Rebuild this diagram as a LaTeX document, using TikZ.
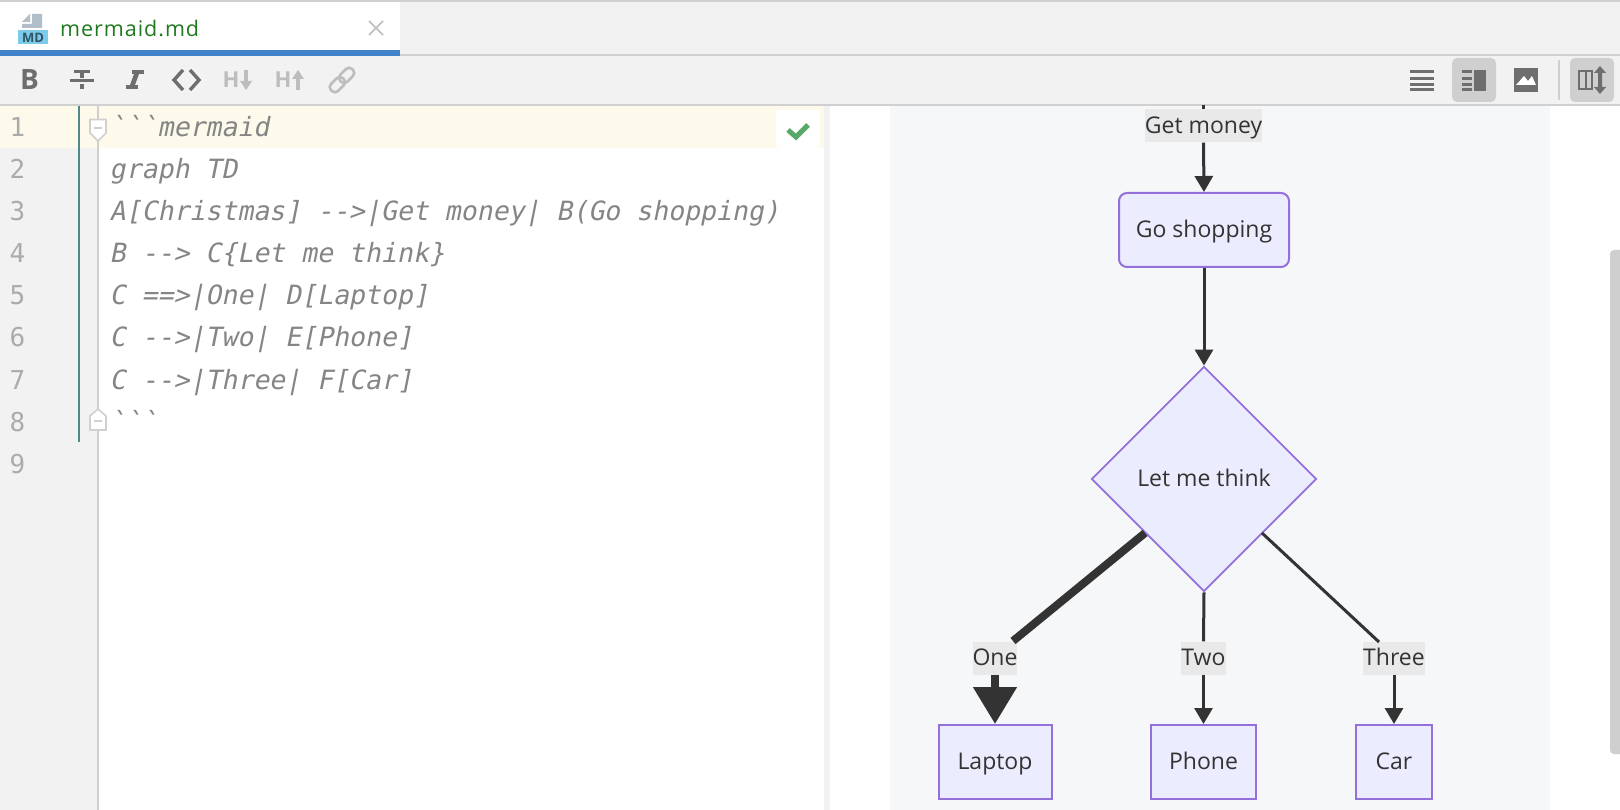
\documentclass[tikz,border=0pt]{standalone}
\usepackage{fontspec}
\setmainfont{Open Sans}
\newfontfamily\codefont{DejaVu Sans Mono}
\newfontfamily\uifont{Open Sans}
\newfontfamily\tabfont[LetterSpace=4.5]{Open Sans}
\usetikzlibrary{arrows.meta,shapes.geometric}
\definecolor{barbg}{HTML}{F2F2F2}
\definecolor{sep}{HTML}{D0D0D0}
\definecolor{tabblue}{HTML}{4083C9}
\definecolor{curline}{HTML}{FDFAEB}
\definecolor{teal1}{HTML}{4F8A87}
\definecolor{codegray}{HTML}{858585}
\definecolor{numgray}{HTML}{ABABAB}
\definecolor{panel}{HTML}{F6F7F9}
\definecolor{nodefill}{HTML}{ECECFF}
\definecolor{nodeline}{HTML}{9370DB}
\definecolor{ink}{HTML}{333333}
\definecolor{lblbg}{HTML}{E9E9E9}
\definecolor{icon}{HTML}{6E6E6E}
\definecolor{iconoff}{HTML}{BDBDBD}
\definecolor{iconbg}{HTML}{CFCFCF}
\definecolor{okgreen}{HTML}{59A869}
\definecolor{mdblue}{HTML}{7CCBEA}
\definecolor{mdgray}{HTML}{B2BEC8}
\definecolor{mdink}{HTML}{2F5566}
\definecolor{tabgreen}{HTML}{1F7A1F}
\tikzset{
 x=1pt,y=-1pt,
 codeline/.style={anchor=base west,inner sep=0pt,text=codegray,font=\fontsize{26.5}{30}\codefont\addfontfeature{FakeSlant=0.2}},
 numline/.style={anchor=base west,inner sep=0pt,text=numgray,font=\fontsize{26}{30}\codefont},
 flow/.style={draw=nodeline,fill=nodefill,line width=2pt,inner sep=0pt,text=ink,text height=18pt,text depth=3pt,font=\fontsize{23}{28}\selectfont},
 edgelbl/.style={fill=lblbg,inner sep=0pt,text=ink,text height=18pt,text depth=3pt,font=\fontsize{23}{28}\selectfont},
 conn/.style={draw=ink,line width=3pt,-{Triangle[length=16pt,width=18pt]}},
 connplain/.style={draw=ink,line width=3pt},
 thick conn/.style={draw=ink,line width=8pt,-{Triangle[length=37pt,width=42pt]}},
 thick plain/.style={draw=ink,line width=8pt},
}
\begin{document}
\begin{tikzpicture}
\useasboundingbox (0,0) rectangle (1620,810);
% backgrounds
\fill[white] (0,0) rectangle (1620,810);
\fill[barbg] (0,0) rectangle (1620,105);
\fill[sep] (0,0) rectangle (1620,2);
\fill[sep] (400,54) rectangle (1620,56);
\fill[white] (0,2) rectangle (400,50);
\fill[tabblue] (0,50) rectangle (400,56);
\fill[sep] (0,104) rectangle (1620,106);
% gutter
\fill[barbg] (0,106) rectangle (98,810);
\fill[curline] (0,106) rectangle (824,148);
\fill[sep] (97,106) rectangle (99,810);
\fill[teal1] (78,106) rectangle (80,442);
\fill[barbg] (824,106) rectangle (830,810);
% preview
\fill[panel] (890,106) rectangle (1550,810);
\fill[iconbg,rounded corners=4pt] (1610,250) rectangle (1630,754);
% tab
\fill[mdgray] (32,14) -- (42,14) -- (42,28) -- (22,28) -- (22,24) -- (32,24) -- cycle;
\fill[mdgray] (30,14) -- (30,22) -- (22,22) -- cycle;
\fill[mdblue] (18,30) rectangle (48,44);
\node[anchor=center,inner sep=0pt,text=mdink,font=\fontsize{13}{14}\uifont\bfseries] (mdmark) at (33,38) {MD};
\node[anchor=base west,inner sep=0pt,text=tabgreen,font=\fontsize{21.5}{24}\tabfont] (tabname) at (60,36.5) {mermaid.md};
\draw[iconoff,line width=1.6pt] (369,21) -- (383,35) (383,21) -- (369,35);
% toolbar icons
\node[inner sep=0pt,text=icon,font=\fontsize{28}{30}\uifont\bfseries] (ibold) at (29.5,80) {B};
\fill[icon] (70,79) rectangle (94,82);
\fill[icon] (74,70) rectangle (90,73);
\fill[icon] (80,73) rectangle (84,78);
\fill[icon] (80,84) rectangle (84,89);
\fill[icon] (132,70) rectangle (144,74);
\fill[icon] (126,85) rectangle (138,89);
\fill[icon] (134,74) -- (139,74) -- (135,85) -- (130,85) -- cycle;
\draw[icon,line width=3.4pt] (183,70) -- (174,80) -- (183,90) (190,70) -- (199,80) -- (190,90);
\node[anchor=center,inner sep=0pt,text=iconoff,font=\fontsize{22}{24}\uifont\bfseries] (ihd) at (231,80) {H};
\fill[iconoff] (244,70) rectangle (248,82);
\fill[iconoff] (240,81) -- (252,81) -- (246,90) -- cycle;
\node[anchor=center,inner sep=0pt,text=iconoff,font=\fontsize{22}{24}\uifont\bfseries] (ihu) at (283,80) {H};
\fill[iconoff] (296,78) rectangle (300,90);
\fill[iconoff] (292,79) -- (304,79) -- (298,70) -- cycle;
\begin{scope}[shift={(342,80)},rotate=45]
\draw[iconoff,line width=2.6pt,rounded corners=4.5pt] (-15,-5) rectangle (2,5);
\draw[iconoff,line width=2.6pt,rounded corners=4.5pt] (-2,-5) rectangle (15,5);
\end{scope}
% right icons
\foreach \yy in {70,77,83,88}{\fill[icon] (1410,\yy) rectangle (1434,\yy+3);}
\fill[iconbg,rounded corners=5pt] (1452,58) rectangle (1496,102);
\foreach \yy in {70,77,83,88}{\fill[icon] (1462,\yy) rectangle (1472,\yy+3);}
\fill[icon] (1474,70) rectangle (1486,91);
\fill[icon] (1514,68) rectangle (1538,92);
\fill[white] (1516,85) -- (1524,76) -- (1528,81) -- (1532,76) -- (1536,85) -- cycle;
\fill[iconbg] (1558,60) rectangle (1560,100);
\fill[iconbg,rounded corners=5pt] (1570,58) rectangle (1614,102);
\draw[icon,line width=2pt] (1579,71) rectangle (1592,89) (1585.5,71) -- (1585.5,89);
\fill[icon] (1600,66) -- (1606,73) -- (1602,73) -- (1602,87) -- (1606,87) -- (1600,94) -- (1594,87) -- (1598,87) -- (1598,73) -- (1594,73) -- cycle;
% gutter numbers
\node[numline] (n1) at (9.5,137) {1};
\node[numline] (n2) at (9.5,179) {2};
\node[numline] (n3) at (9.5,221) {3};
\node[numline] (n4) at (9.5,263) {4};
\node[numline] (n5) at (9.5,305) {5};
\node[numline] (n6) at (9.5,347) {6};
\node[numline] (n7) at (9.5,389) {7};
\node[numline] (n8) at (9.5,431) {8};
\node[numline] (n9) at (9.5,473) {9};
% fold markers
\draw[sep,fill=white,line width=1.6pt] (90,119.5) -- (106,119.5) -- (106,133) -- (98,141) -- (90,133) -- cycle;
\draw[sep,line width=1.6pt] (94,128) -- (102,128);
\draw[sep,fill=white,line width=1.6pt] (90,430) -- (106,430) -- (106,416) -- (98,409) -- (90,416) -- cycle;
\draw[sep,line width=1.6pt] (94,421) -- (102,421);
% code
\node[codeline] (c1) at (109.5,137) {```mermaid};
\node[codeline] (c2) at (109.5,179) {graph TD};
\node[codeline] (c3) at (109.5,221) {A[Christmas] -->|Get money| B(Go shopping)};
\node[codeline] (c4) at (109.5,263) {B --> C\{Let me think\}};
\node[codeline] (c5) at (109.5,305) {C ==>|One| D[Laptop]};
\node[codeline] (c6) at (109.5,347) {C -->|Two| E[Phone]};
\node[codeline] (c7) at (109.5,389) {C -->|Three| F[Car]};
\node[codeline] (c8) at (109.5,431) {```};
% check
\fill[white,rounded corners=4pt] (776,110) rectangle (820,148);
\draw[okgreen,line width=5pt] (788,130) -- (796,137) -- (808,125);
% flow
\node[flow,rounded corners=8pt,minimum width=170pt,minimum height=74pt] (B) at (1204,230) {Go shopping};
\node[flow,diamond,shape aspect=1,minimum width=225pt,minimum height=225pt,line width=1.8pt] (C) at (1204,479) {Let me think};
\node[flow,minimum width=113pt,minimum height=74pt] (D) at (995,762) {Laptop};
\node[flow,minimum width=105pt,minimum height=74pt] (E) at (1203.5,762) {Phone};
\node[flow,minimum width=76pt,minimum height=74pt] (F) at (1394,762) {Car};
\coordinate (topin) at (1203.5,105);
\coordinate (Cone) at (1145,533);
\coordinate (Cthree) at (1262,533);
\coordinate (Loneend) at (1013,641);
\coordinate (Lthreeend) at (1379,642);
\node[edgelbl,minimum width=116pt,minimum height=33pt] (L0) at (1203.5,126) {Get money};
\node[edgelbl,minimum width=42pt,minimum height=33pt] (L1) at (995,658) {One};
\node[edgelbl,minimum width=44pt,minimum height=33pt] (L2) at (1203.5,658) {Two};
\node[edgelbl,minimum width=62pt,minimum height=33pt] (L3) at (1394,658) {Three};
\draw[connplain] (topin) -- (L0.north);
\draw[conn] (L0.south) -- (B.north);
\draw[conn] (B.south) -- (C.north);
\draw[thick plain] (Cone) -- (Loneend);
\draw[connplain] (C.south) -- (L2.north);
\draw[connplain] (Cthree) -- (Lthreeend);
\draw[thick conn] (L1.south) -- (D.north);
\draw[conn] (L2.south) -- (E.north);
\draw[conn] (L3.south) -- (F.north);
\end{tikzpicture}
\end{document}
